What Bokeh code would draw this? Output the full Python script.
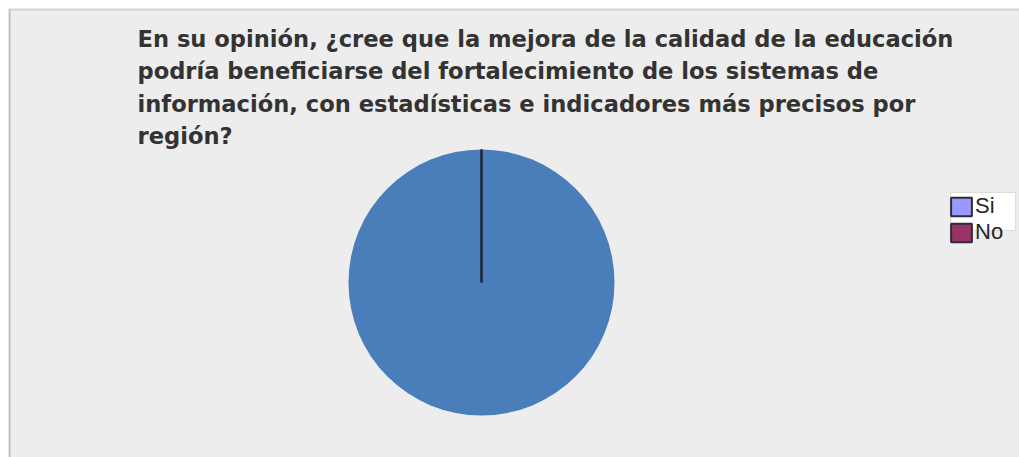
from bokeh.plotting import figure
from bokeh.models import Range1d, Label, Legend, LegendItem, ColumnDataSource, BoxAnnotation, Span
from bokeh.core.properties import value
from bokeh.embed import file_html
from bokeh.resources import INLINE
import math

categories = ["Si", "No"]
values = [100, 0]
pie_colors = ["#4a7ebb", "#993366"]
legend_colors = ["#9999ff", "#993366"]
title_lines = [
    "En su opinión, ¿cree que la mejora de la calidad de la educación",
    "podría beneficiarse del fortalecimiento de los sistemas de",
    "información, con estadísticas e indicadores más precisos por",
    "región?",
]

PW, PH = 1019, 457
M = 8
W, H = PW - M, PH - M
BG = "#ededed"

p = figure(width=PW, height=PH, output_backend="svg", toolbar_location=None,
           x_range=Range1d(0, W), y_range=Range1d(0, H),
           min_border_left=M, min_border_top=M, min_border_right=0, min_border_bottom=0,
           background_fill_color=BG, border_fill_color="white",
           outline_line_color=None)
p.axis.visible = False
p.grid.visible = False

# chart-area border (left and top visible)
p.add_layout(Span(location=1, location_units="screen", dimension="height",
                  line_color="#bcbcbc", line_width=2))
p.add_layout(Span(location=H - 1, location_units="screen", dimension="width",
                  line_color="#cfcfcf", line_width=2))

cx, cy, r = 473, PH - 282, 133
total = sum(values)
starts, ends, cum = [], [], 0.0
for v in values:
    starts.append(math.pi / 2 - 2 * math.pi * cum / total)
    cum += v
    ends.append(math.pi / 2 - 2 * math.pi * cum / total)

src = ColumnDataSource(dict(x=[cx] * len(values), y=[cy] * len(values),
                            start=starts, end=ends, color=pie_colors,
                            cat=categories, val=values))
nz = [i for i, v in enumerate(values) if v > 0]
full = ColumnDataSource(dict(x=[cx for i in nz], y=[cy for i in nz],
                             color=[pie_colors[i] for i in nz]))
if len(nz) == 1:
    p.circle(x="x", y="y", radius=r, radius_units="screen", source=full,
             fill_color="color", line_color=None)
else:
    p.wedge(x="x", y="y", radius=r, radius_units="screen", start_angle="start",
            end_angle="end", direction="clock", source=src,
            fill_color="color", line_color=None)

# slice boundary lines
bounds = sorted(set(round(s, 9) for s in starts))
p.ray(x=[cx] * len(bounds), y=[cy] * len(bounds), length=r, length_units="screen",
      angle=bounds, line_color="#1c2633", line_width=2)

# legend box
p.add_layout(BoxAnnotation(left=942, right=1007, top=PH - 192, bottom=PH - 230,
                           left_units="screen", right_units="screen",
                           top_units="screen", bottom_units="screen",
                           fill_color="white", fill_alpha=1,
                           line_color="#a0a0a0", line_width=1))

items = []
for cat, col in zip(categories, legend_colors):
    rr = p.rect(x=[-1000], y=[-1000], width=1, height=1, fill_color=col,
                line_color="#2c2c3c", line_width=2)
    items.append(LegendItem(label=value(cat), renderers=[rr]))
leg = Legend(items=items, location=(940, PH - 245), orientation="vertical",
             background_fill_alpha=0, border_line_color=None,
             glyph_width=26, glyph_height=23, label_height=25, label_width=20,
             label_standoff=1, padding=0, spacing=0, margin=0,
             label_text_font="Liberation Sans", label_text_font_size="22px",
             label_text_color="#262626")
p.add_layout(leg, "center")

p.add_layout(Label(x=129, y=PH - 25, x_units="screen", y_units="screen",
                   text="\n".join(title_lines), text_font="DejaVu Sans",
                   text_font_style="bold", text_font_size="22.6px", text_color="#333333",
                   text_baseline="top", text_align="left", text_line_height=1.256))

open("out.html", "w").write(file_html(p, INLINE))
